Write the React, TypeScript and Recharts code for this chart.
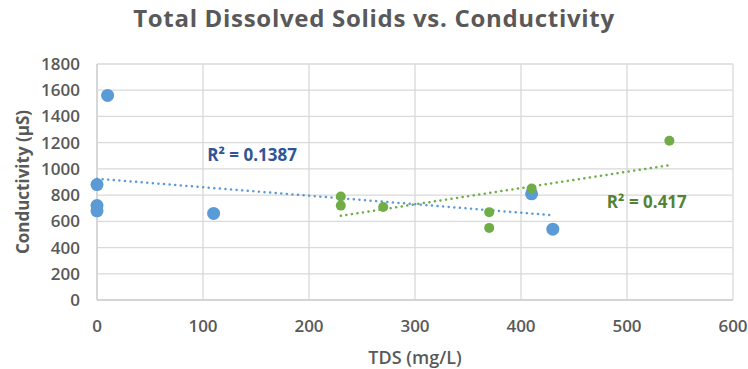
import {
  CartesianGrid,
  ReferenceDot,
  Scatter,
  ScatterChart,
  XAxis,
  YAxis,
} from "recharts";

const TITLE = "Total Dissolved Solids vs. Conductivity";
const X_LABEL = "TDS (mg/L)";
const Y_LABEL = "Conductivity (µS)";

const X_TICKS = [0, 100, 200, 300, 400, 500, 600];
const Y_TICKS = [0, 200, 400, 600, 800, 1000, 1200, 1400, 1600, 1800];

// series A (blue)
const blueTds = [0, 0, 0, 10, 110, 410, 430];
const blueCond = [880, 720, 680, 1560, 660, 810, 540];
// series B (green)
const greenTds = [230, 230, 270, 370, 370, 410, 540];
const greenCond = [790, 720, 710, 670, 550, 850, 1215];

// trendline ends
const blueTrendTds = [0, 430];
const blueTrendCond = [925, 646];
const greenTrendTds = [230, 540];
const greenTrendCond = [642, 1028];

const blueR2 = "R² = 0.1387";
const greenR2 = "R² = 0.417";

const BLUE = "#5B9BD5";
const GREEN = "#70AD47";
const INK = "#595959";
const FONT = "'Open Sans', sans-serif";

const zip = (xs: number[], ys: number[]) => xs.map((x, i) => ({ x, y: ys[i] }));

const blueData = zip(blueTds, blueCond);
const greenData = zip(greenTds, greenCond);
const blueTrend = zip(blueTrendTds, blueTrendCond);
const greenTrend = zip(greenTrendTds, greenTrendCond);

const tickStyle = { fill: INK, fontSize: 17, fontWeight: 600, fontFamily: FONT };

function dot(color: string, r: number) {
  return (props: unknown) => {
    const { cx, cy } = props as { cx: number; cy: number };
    return <circle cx={cx} cy={cy} r={r} fill={color} />;
  };
}

const noDot = () => <g />;

function r2Label(text: string, color: string) {
  return (props: unknown) => {
    const { viewBox } = props as { viewBox: { x: number; y: number } };
    return (
      <text
        x={viewBox.x}
        y={viewBox.y}
        dominantBaseline="central"
        fill={color}
        fontSize={17}
        fontWeight={700}
        fontFamily={FONT}
      >
        {text}
      </text>
    );
  };
}

export default function App() {
  return (
    <div style={{ position: "absolute", left: 0, top: 0, width: 748, height: 369, background: "#fff" }}>
      <div
        style={{
          position: "absolute",
          top: 6,
          left: 0,
          width: 748,
          textAlign: "center",
          fontFamily: FONT,
          fontWeight: 700,
          fontSize: 24,
          letterSpacing: 0.7,
          lineHeight: "24px",
          color: INK,
        }}
      >
        {TITLE}
      </div>
      <ScatterChart width={748} height={369} margin={{ top: 64, right: 15, bottom: 0, left: 0 }}>
        <CartesianGrid stroke="#D9D9D9" strokeWidth={1.3} />
        <XAxis
          type="number"
          dataKey="x"
          domain={[0, 600]}
          ticks={X_TICKS}
          height={69}
          stroke="#CFCFCF"
          strokeWidth={1.3}
          tickLine={false}
          tickSize={0}
          tickMargin={20}
          tick={tickStyle}
          label={{
            content: (p: unknown) => {
              const { viewBox } = p as { viewBox: { x: number; y: number; width: number } };
              return (
                <text
                  x={viewBox.x + viewBox.width / 2}
                  y={viewBox.y + 64}
                  textAnchor="middle"
                  fill={INK}
                  fontSize={18}
                  fontWeight={600}
                  fontFamily={FONT}
                >
                  {X_LABEL}
                </text>
              );
            },
          }}
        />
        <YAxis
          type="number"
          dataKey="y"
          domain={[0, 1800]}
          ticks={Y_TICKS}
          width={97}
          stroke="#CFCFCF"
          strokeWidth={1.3}
          tickLine={false}
          tickSize={0}
          tickMargin={17}
          tick={tickStyle}
          label={{
            content: (p: unknown) => {
              const { viewBox } = p as { viewBox: { x: number; y: number; height: number } };
              const cx = viewBox.x + 22;
              const cy = viewBox.y + viewBox.height / 2;
              return (
                <text
                  x={cx}
                  y={cy}
                  transform={`rotate(-90 ${cx} ${cy})`}
                  textAnchor="middle"
                  dominantBaseline="central"
                  fill={INK}
                  fontSize={17}
                  fontWeight={700}
                  fontFamily={FONT}
                >
                  {Y_LABEL}
                </text>
              );
            },
          }}
        />
        <Scatter
          data={blueTrend}
          shape={noDot}
          line={{ stroke: BLUE, strokeWidth: 2.5, strokeDasharray: "0.1 5.5", strokeLinecap: "round" }}
          isAnimationActive={false}
        />
        <Scatter
          data={greenTrend}
          shape={noDot}
          line={{ stroke: GREEN, strokeWidth: 2.5, strokeDasharray: "0.1 5.5", strokeLinecap: "round" }}
          isAnimationActive={false}
        />
        <Scatter data={blueData} shape={dot(BLUE, 6.5)} isAnimationActive={false} />
        <Scatter data={greenData} shape={dot(GREEN, 5)} isAnimationActive={false} />
        <ReferenceDot x={104} y={1110} r={0} stroke="none" label={{ content: r2Label(blueR2, "#2F5597") }} />
        <ReferenceDot x={481} y={755} r={0} stroke="none" label={{ content: r2Label(greenR2, "#548235") }} />
      </ScatterChart>
    </div>
  );
}
